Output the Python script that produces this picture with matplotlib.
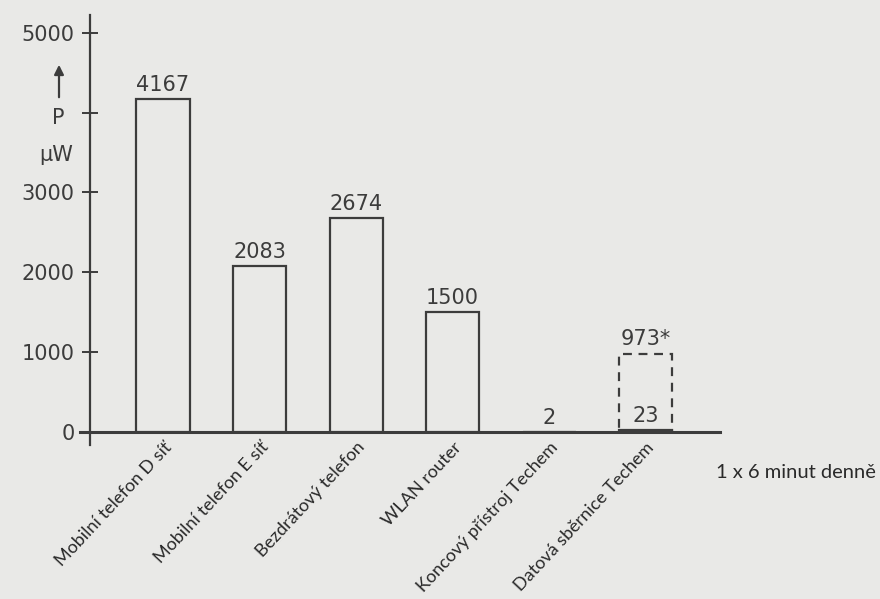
import matplotlib
import matplotlib.pyplot as plt
import numpy as np

matplotlib.use('Agg')

# Data
categories = ['Mobilní telefon D síť', 'Mobilní telefon E síť', 'Bezdrátový telefon',
	'WLAN router', 'Koncový přístroj Techem', 'Datová sběrnice Techem']
power_uw = [4167, 2083, 2674, 1500, 2, 23]
value_labels = ['4167', '2083', '2674', '1500', '2', '23']
peak_uw = 973  # dashed bar for the data bus (1 x 6 minutes daily)
peak_label = '973*'
y_ticks = [0, 1000, 2000, 3000, 4000, 5000]
y_tick_labels = ['0', '1000', '2000', '3000', '', '5000']
note = '1 x 6 minut denně'

bg = '#e9e9e7'
ink = '#3c3c3c'
num_font = 'DejaVu Sans'

fig = plt.figure(figsize=(8.8, 5.99), dpi=100, facecolor=bg)
ax = fig.add_axes([80 / 880, 1 - 445 / 599, 640 / 880, 430 / 599])
ax.set_facecolor('none')

x = np.arange(len(categories))
bar_w = 0.55

# Solid bars
ax.bar(x[:5], power_uw[:5], width=bar_w, facecolor=bg, edgecolor=ink, linewidth=1.6, zorder=3)
# Last category: dashed peak box plus small solid bar
ax.bar(x[5], peak_uw, width=bar_w, facecolor='none', edgecolor=ink, linewidth=1.6,
	linestyle=(0, (4, 3)), zorder=3)
ax.bar(x[5], power_uw[5], width=bar_w, facecolor=ink, edgecolor=ink, linewidth=1.6, zorder=4)

# Value labels
for i in range(len(categories)):
	ax.annotate(value_labels[i], (x[i], power_uw[i]), xytext=(0, 3), textcoords='offset points',
		ha='center', va='bottom', fontsize=15, color=ink, family=num_font)
ax.annotate(peak_label, (x[5], peak_uw), xytext=(0, 4), textcoords='offset points',
	ha='center', va='bottom', fontsize=15, color=ink, family=num_font)

# Axes look: cross ticks, spine through zero
ax.set_xlim(-0.86, 5.77)
ax.set_ylim(-160, 5220)
for side in ['top', 'right']:
	ax.spines[side].set_visible(False)
ax.spines['left'].set_position(('data', -0.756))
ax.spines['bottom'].set_position(('data', 0))
ax.spines['left'].set_linewidth(1.6)
ax.spines['bottom'].set_linewidth(2.2)
ax.spines['left'].set_color(ink)
ax.spines['bottom'].set_color(ink)

ax.set_yticks(y_ticks)
ax.set_yticklabels(y_tick_labels, fontsize=15, color=ink, family=num_font)
ax.tick_params(axis='y', direction='inout', length=12, width=1.4, color=ink, pad=5)

ax.set_xticks(x)
ax.set_xticklabels(categories, rotation=47, ha='right', rotation_mode='anchor',
	fontsize=13, color='#2a2a2a', family='Lato')
ax.tick_params(axis='x', length=0, pad=5)

# Axis label "P μW" with arrow
fig.text(58 / 880, 1 - 118 / 599, 'P', ha='center', va='center', fontsize=15, color=ink,
	family=num_font)
fig.text(56 / 880, 1 - 155 / 599, 'μW', ha='center', va='center', fontsize=15, color=ink,
	family=num_font)
fig.add_artist(matplotlib.patches.FancyArrowPatch(
	(59 / 880, 1 - 100 / 599), (59 / 880, 1 - 62 / 599), transform=fig.transFigure,
	arrowstyle='-|>', mutation_scale=14, linewidth=1.6, color=ink))

fig.text(716 / 880, 1 - 472 / 599, note, ha='left', va='center', fontsize=14.5, color='#2a2a2a',
	family='Lato')

fig.savefig('out.png', dpi=100, facecolor=bg)
